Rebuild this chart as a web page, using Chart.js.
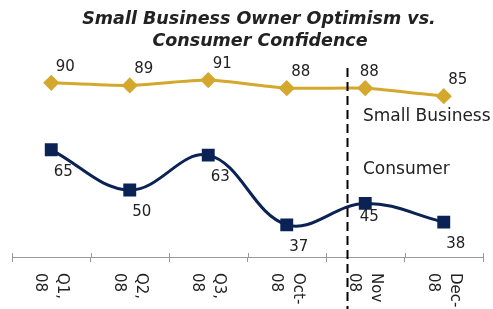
<!DOCTYPE html>
<html>
<head>
<meta charset="utf-8">
<script src="https://cdn.jsdelivr.net/npm/chart.js@4/dist/chart.umd.min.js"></script>
<style>
  html, body { margin: 0; padding: 0; background: #fff; }
  #wrap { width: 493px; height: 309px; position: relative; }
</style>
</head>
<body>
<div id="wrap"><canvas id="myChart"></canvas></div>
<script>
const categories = [['Q1,', '08'], ['Q2,', '08'], ['Q3,', '08'], ['Oct-', '08'], ['Nov', '08'], ['Dec-', '08']];
const smallBusiness = [90, 89, 91, 88, 88, 85];
const consumer = [65, 50, 63, 37, 45, 38];
const titleLines = ['Small Business Owner Optimism vs.', 'Consumer Confidence'];
const dividerAt = 3.77; // dashed line sits between Oct and Nov

const gold = '#D4A82C';
const navy = '#0B2255';

const extras = {
  id: 'extras',
  afterDraw(chart) {
    const c = chart.ctx;
    const x = chart.scales.x, y = chart.scales.y;
    c.save();
    // title
    c.fillStyle = '#222';
    c.textAlign = 'center';
    c.textBaseline = 'middle';
    c.font = 'italic bold 17.5px "DejaVu Sans"';
    c.fillText(titleLines[0], 259, 19);
    c.fillText(titleLines[1], 260, 41);

    // value labels
    c.font = '15px "DejaVu Sans"';
    c.fillStyle = '#222';
    smallBusiness.forEach((v, i) => {
      c.fillText(String(v), x.getPixelForValue(i) + (i === 4 ? 4 : 14), y.getPixelForValue(v) - 16);
    });
    consumer.forEach((v, i) => {
      c.fillText(String(v), x.getPixelForValue(i) + (i === 4 ? 4 : 12), y.getPixelForValue(v) + (i === 4 ? 14 : 22));
    });

    // series names
    c.textAlign = 'left';
    c.font = '17px "DejaVu Sans"';
    c.fillText('Small Business', 363, 117);
    c.fillText('Consumer', 363, 170);

    // rotated tick labels
    c.font = '15px "DejaVu Sans"';
    c.fillStyle = '#222';
    categories.forEach((lines, i) => {
      const px = x.getPixelForValue(i);
      c.save();
      c.translate(px, 273);
      c.rotate(Math.PI / 2);
      c.textAlign = 'left';
      c.textBaseline = 'middle';
      c.fillText(lines[0], 0, -11);
      c.fillText(lines[1], 0, 11);
      c.restore();
    });

    // small upward tick marks between categories
    c.strokeStyle = '#999';
    c.lineWidth = 1;
    for (let i = 0; i <= categories.length; i++) {
      const tx = Math.round(x.getPixelForValue(i - 0.5)) + 0.5;
      c.beginPath();
      c.moveTo(tx, x.top - 4);
      c.lineTo(tx, x.top);
      c.stroke();
    }

    // dashed divider
    const dx = Math.round(x.getPixelForValue(dividerAt)) + 0.5;
    c.strokeStyle = '#000';
    c.lineWidth = 2;
    c.setLineDash([9, 5]);
    c.beginPath();
    c.moveTo(dx, 68);
    c.lineTo(dx, 309);
    c.stroke();
    c.restore();
  }
};

const myChart = new Chart(document.getElementById('myChart').getContext('2d'), {
  type: 'line',
  data: {
    labels: categories,
    datasets: [{
      label: 'Small Business',
      data: smallBusiness,
      borderColor: gold,
      backgroundColor: gold,
      borderWidth: 3,
      tension: 0.2,
      pointStyle: 'rectRot',
      pointRadius: 6,
      pointHoverRadius: 6,
      clip: false
    }, {
      label: 'Consumer',
      data: consumer,
      borderColor: navy,
      backgroundColor: navy,
      borderWidth: 3,
      tension: 0.38,
      pointStyle: 'rect',
      pointRadius: 7,
      pointHoverRadius: 7,
      clip: false
    }]
  },
  options: {
    responsive: true,
    maintainAspectRatio: false,
    animation: false,
    layout: { padding: { left: 12, right: 6, top: 56, bottom: 47 } },
    plugins: {
      legend: { display: false },
      title: { display: false },
      tooltip: { enabled: false }
    },
    scales: {
      x: {
        offset: true,
        grid: { offset: true, drawOnChartArea: false, color: '#999', tickLength: 5 },
        border: { color: '#999', width: 1 },
        ticks: { display: false }
      },
      y: {
        display: false,
        min: 25,
        max: 100
      }
    }
  },
  plugins: [extras]
});
</script>
</body>
</html>
